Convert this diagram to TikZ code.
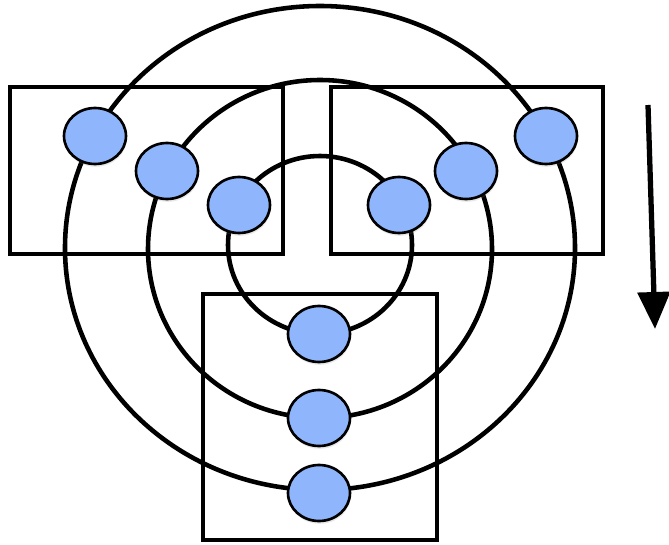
\documentclass[tikz,border=0pt]{standalone}
\usetikzlibrary{shapes.geometric,arrows.meta,shadows}
\definecolor{dotblue}{RGB}{143,182,252}
\tikzset{
  dot/.style={ellipse,draw=black,line width=1.5pt,fill=dotblue,minimum width=1.24cm,minimum height=1.12cm,inner sep=0pt,
    drop shadow={opacity=0.18,shadow xshift=0.4pt,shadow yshift=-1.6pt}},
  ring/.style={line width=2.6pt},
  box/.style={line width=2.5pt}
}
\begin{document}
\begin{tikzpicture}[x=0.02cm,y=-0.02cm]
\useasboundingbox (0,0) rectangle (669,544);
\draw[ring] (320,248) ellipse [x radius=255,y radius=242];
\draw[ring] (320,249) ellipse [x radius=172,y radius=169];
\draw[ring] (320,245) ellipse [x radius=92,y radius=89];
\draw[box] (10,87) rectangle (283,254);
\draw[box] (331,87) rectangle (603,254);
\draw[box] (203,294) rectangle (437,540);
\node[dot] (l1) at (95,136) {};
\node[dot] (l2) at (167,171) {};
\node[dot] (l3) at (239,205) {};
\node[dot] (r3) at (399,205) {};
\node[dot] (r2) at (466,171) {};
\node[dot] (r1) at (546,136) {};
\node[dot] (b1) at (319,334) {};
\node[dot] (b2) at (319,418) {};
\node[dot] (b3) at (319,493) {};
\coordinate (flowtop) at (648,105);
\coordinate (flowend) at (655,329);
\draw[line width=3pt,-{Triangle[length=0.74cm,width=0.64cm]}] (flowtop) -- (flowend);
\end{tikzpicture}
\end{document}
